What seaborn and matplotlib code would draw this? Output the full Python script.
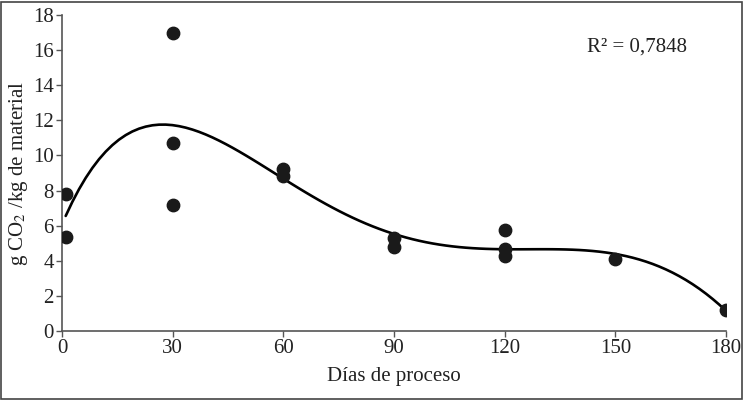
import numpy as np
import pandas as pd
import matplotlib
matplotlib.use('Agg')
import matplotlib.pyplot as plt
import seaborn as sns

# data
dias = [1, 1, 30, 30, 30, 60, 60, 90, 90, 120, 120, 120, 150, 180]
co2 = [7.8, 5.36, 17.0, 10.7, 7.18, 9.25, 8.83, 5.3, 4.79, 5.75, 4.67, 4.27, 4.1, 1.2]
x_ticks = [0, 30, 60, 90, 120, 150, 180]
y_ticks = list(range(0, 19, 2))
r2_text = 'R² = 0,7848'

df = pd.DataFrame({'dias': dias, 'co2': co2})

sns.set_style('ticks')
plt.rcParams['font.family'] = ['Liberation Serif', 'DejaVu Serif']
plt.rcParams['mathtext.fontset'] = 'stix'

fig = plt.figure(figsize=(7.44, 4.0), dpi=100)
ax = fig.add_axes([62 / 744, 1 - 331 / 400, (726 - 62) / 744, (331 - 15) / 400])

# polynomial trend line, as in the original
sns.regplot(data=df, x='dias', y='co2', order=5, ci=None, ax=ax,
            scatter_kws={'s': 80, 'color': '#1a1a1a', 'alpha': 1, 'zorder': 3},
            line_kws={'color': 'black', 'lw': 1.9})

ax.set_xlim(0, 180)
ax.set_ylim(0, 18)
ax.set_xticks(x_ticks)
ax.set_yticks(y_ticks)
ax.tick_params(labelsize=15, colors='#555555', labelcolor='#222222',
               length=4, width=1, direction='out', pad=2)
for side in ['top', 'right']:
    ax.spines[side].set_visible(False)
for side in ['left', 'bottom']:
    ax.spines[side].set_color('#555555')
    ax.spines[side].set_linewidth(1.2)

ax.set_xlabel('Días de proceso', fontsize=15, color='#222222', labelpad=6)
ax.set_ylabel('g CO$_2$ /kg de material', fontsize=15, color='#222222', labelpad=2)
ax.text(0.791, 0.885, r2_text, transform=ax.transAxes, fontsize=15, color='#222222')

# frame around the whole picture
fig.patches.append(plt.Rectangle((0.002, 0.003), 0.995, 0.993, transform=fig.transFigure,
                                 fill=False, edgecolor='#444444', lw=1.2))

fig.savefig('out.png', dpi=100)
